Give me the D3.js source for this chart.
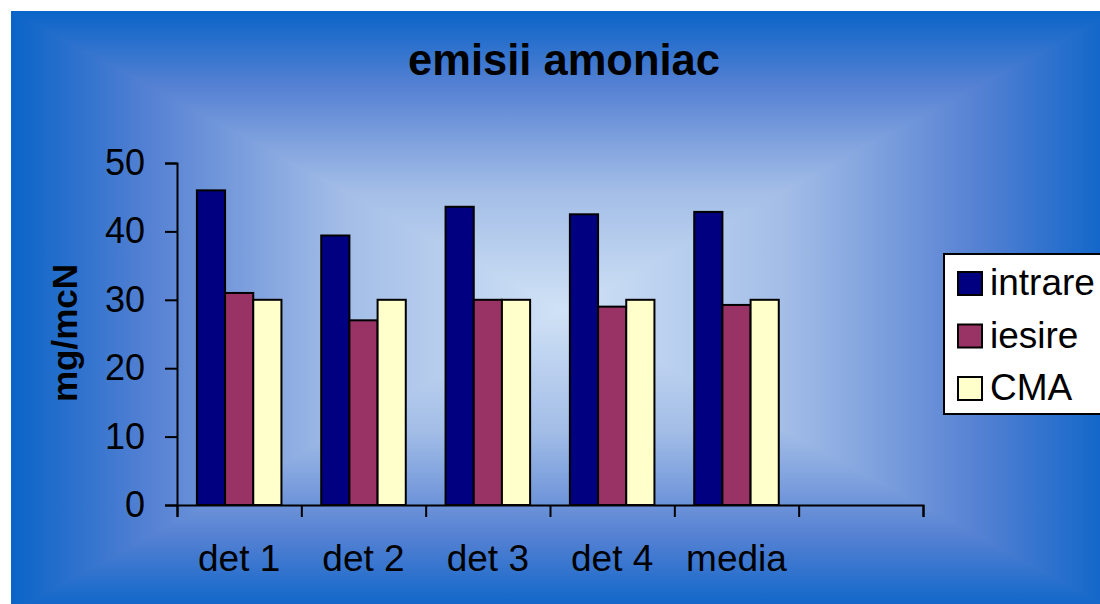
<!DOCTYPE html>
<html>
<head>
<meta charset="utf-8">
<script src="https://cdn.jsdelivr.net/npm/d3@7"></script>
<style>
  html, body { margin: 0; padding: 0; background: #ffffff; }
  svg { display: block; }
  text { font-family: "Liberation Sans", Arial, sans-serif; fill: #000; }
</style>
</head>
<body>
<svg id="chart" width="1100" height="604"></svg>
<script>
// Ammonia emissions per measurement point (mg/mcN)
const categories = ["det 1", "det 2", "det 3", "det 4", "media", ""];
const seriesNames = ["intrare", "iesire", "CMA"];
const intrare = [46, 39.4, 43.6, 42.5, 42.85];
const iesire  = [31, 27, 30, 29, 29.25];
const cma     = [30, 30, 30, 30, 30];
const yTicks  = [0, 10, 20, 30, 40, 50];
const colors  = ["#000080", "#993366", "#ffffcc"];

const svg = d3.select("#chart");
const FONT = "Liberation Sans, Arial, sans-serif";

// ---- background panel: four-sided gradient converging on the centre ----
const panel = { l: 11, t: 11, r: 1117, b: 612 };
const cx = (panel.l + panel.r) / 2, cy = 310;
const defs = svg.append("defs");
const stops = [
  [0, "#0a64c8"], [0.25, "#5581d3"], [0.6, "#a3bde7"], [1, "#d0e2f6"]
];
function grad(id, x1, y1, x2, y2) {
  const g = defs.append("linearGradient").attr("id", id)
    .attr("gradientUnits", "userSpaceOnUse")
    .attr("x1", x1).attr("y1", y1).attr("x2", x2).attr("y2", y2);
  stops.forEach(s => g.append("stop").attr("offset", s[0]).attr("stop-color", s[1]));
}
grad("gTop", 0, panel.t, 0, cy);
grad("gBot", 0, panel.b, 0, cy);
grad("gLeft", panel.l, 0, cx, 0);
grad("gRight", panel.r, 0, cx, 0);

defs.append("clipPath").attr("id", "panelClip")
  .append("rect")
  .attr("x", panel.l).attr("y", panel.t)
  .attr("width", panel.r - panel.l).attr("height", panel.b - panel.t);

const bg = svg.append("g").attr("clip-path", "url(#panelClip)");
// side wedges are drawn a little oversized, then the top/bottom wedges
// are laid over them so the diagonal joins stay seamless
const o = 30;
const shapes = [
  ["gLeft",  [[panel.l, panel.t - o], [cx, cy - 4], [cx, cy + 4], [panel.l, panel.b + o]]],
  ["gRight", [[panel.r, panel.t - o], [cx, cy - 4], [cx, cy + 4], [panel.r, panel.b + o]]],
  ["gTop",   [[panel.l, panel.t], [panel.r, panel.t], [cx, cy]]],
  ["gBot",   [[panel.l, panel.b], [panel.r, panel.b], [cx, cy]]]
];
shapes.forEach(([id, pts]) => {
  bg.append("polygon")
    .attr("points", pts.map(p => p.join(",")).join(" "))
    .attr("fill", `url(#${id})`);
});

// ---- scales ----
const plot = { l: 177, r: 923, t: 163, b: 505 };
const x = d3.scaleBand().domain(categories).range([plot.l, plot.r]).padding(0);
const bw = x.bandwidth();
const gap = bw * 0.32;
const xs = d3.scaleBand().domain(seriesNames).range([gap / 2, bw - gap / 2]).padding(0);
const y = d3.scaleLinear().domain([0, 50]).range([plot.b, plot.t]);
const xEdge = d3.scaleLinear().domain([0, categories.length]).range([plot.l, plot.r]);

// ---- title ----
svg.append("text")
  .attr("x", 564).attr("y", 75)
  .attr("text-anchor", "middle")
  .attr("font-size", 43.5).attr("font-weight", "bold")
  .text("emisii amoniac");

// ---- bars ----
const values = [intrare, iesire, cma];
const barG = svg.append("g");
seriesNames.forEach((s, si) => {
  barG.selectAll(null)
    .data(values[si].map((v, i) => ({ cat: categories[i], v })))
    .join("rect")
    .attr("x", d => x(d.cat) + xs(s))
    .attr("y", d => y(d.v))
    .attr("width", xs.bandwidth())
    .attr("height", d => y(0) - y(d.v))
    .attr("fill", colors[si])
    .attr("stroke", "#000").attr("stroke-width", 2);
});

// ---- y axis ----
const yAxis = svg.append("g")
  .attr("transform", `translate(${plot.l},0)`)
  .call(d3.axisLeft(y).tickValues(yTicks).tickSize(12).tickPadding(20).tickFormat(d3.format("d")));
yAxis.selectAll("path, line").attr("stroke", "#000").attr("stroke-width", 2);
yAxis.selectAll("text").attr("font-size", 36).attr("font-family", FONT).attr("fill", "#000");

// ---- x axis: tick marks on category boundaries ----
const xAxis = svg.append("g")
  .attr("transform", `translate(0,${plot.b})`)
  .call(d3.axisBottom(xEdge).ticks(categories.length).tickSize(12).tickFormat(""));
xAxis.selectAll("path, line").attr("stroke", "#000").attr("stroke-width", 2);

const xLabels = svg.append("g")
  .attr("transform", `translate(0,${plot.b})`)
  .call(d3.axisBottom(x).tickSize(0).tickPadding(40));
xLabels.select(".domain").remove();
xLabels.selectAll("text").attr("font-size", 37).attr("font-family", FONT).attr("fill", "#000");

// ---- y axis title ----
svg.append("text")
  .attr("transform", `translate(77,${(plot.t + plot.b) / 2 - 1}) rotate(-90)`)
  .attr("text-anchor", "middle")
  .attr("font-size", 35).attr("font-weight", "bold")
  .text("mg/mcN");

// ---- legend ----
const leg = svg.append("g");
leg.append("rect")
  .attr("x", 944).attr("y", 254).attr("width", 180).attr("height", 160)
  .attr("fill", "#ffffff").attr("stroke", "#000").attr("stroke-width", 2);
const rowY = d3.scalePoint().domain(seriesNames).range([283, 388]);
seriesNames.forEach((s, i) => {
  leg.append("rect")
    .attr("x", 958).attr("y", rowY(s) - 11).attr("width", 24).attr("height", 23)
    .attr("fill", colors[i]).attr("stroke", "#000").attr("stroke-width", 2);
  leg.append("text")
    .attr("x", 990).attr("y", rowY(s) + 12)
    .attr("font-size", 37)
    .text(s);
});
</script>
</body>
</html>
